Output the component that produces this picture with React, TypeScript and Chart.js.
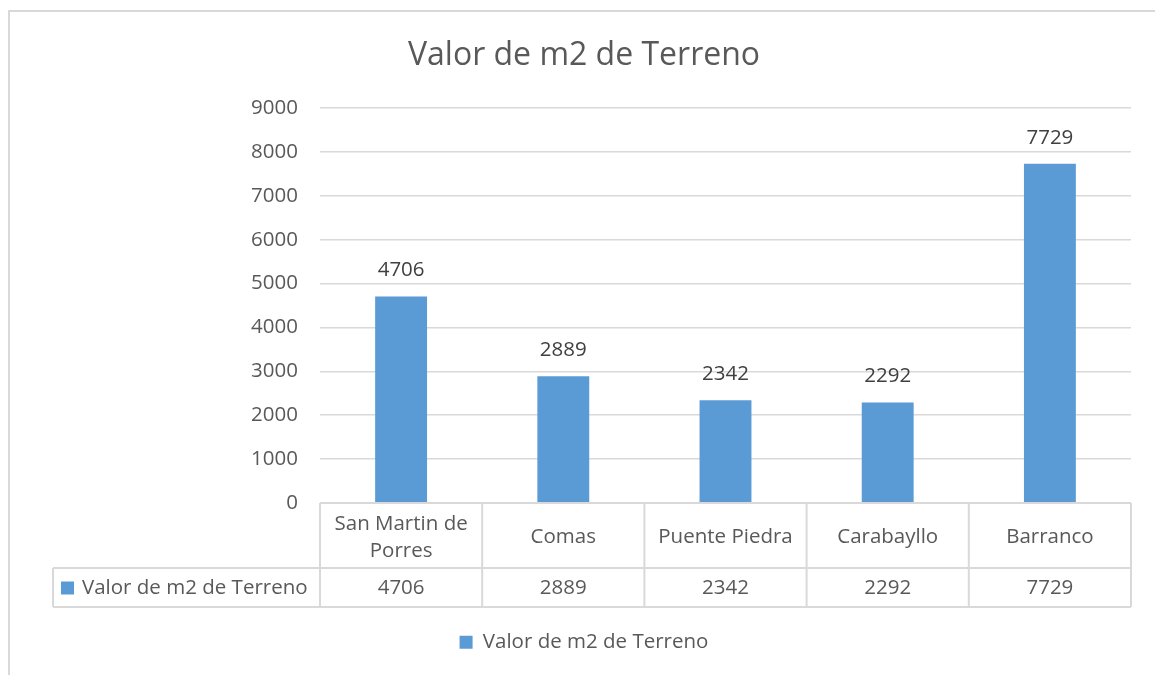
import { useEffect, useRef } from "react";
import { Chart, registerables } from "chart.js";

Chart.register(...registerables);

// ---- data ----
const categories: (string | string[])[] = [["San Martin de", "Porres"], "Comas", "Puente Piedra", "Carabayllo", "Barranco"];
const values = [4706, 2889, 2342, 2292, 7729];
const seriesName = "Valor de m2 de Terreno";
const chartTitle = "Valor de m2 de Terreno";
const yMin = 0;
const yMax = 9000;
const yStep = 1000;

const FONT = "'Open Sans', 'Noto Sans', sans-serif";
const FS = 20.5;
const TEXT = "#595959";
const LINE = "#d9d9d9";
const BAR = "#5b9bd5";

const framePlugin = {
  id: "frame",
  beforeDraw(chart: any) {
    const ctx = chart.ctx;
    ctx.save();
    ctx.fillStyle = "#ffffff";
    ctx.fillRect(0, 0, chart.width, chart.height);
    ctx.strokeStyle = LINE;
    ctx.lineWidth = 2;
    ctx.strokeRect(9, 11, chart.width + 20, chart.height + 20);
    ctx.restore();
  },
};

const dataLabelPlugin = {
  id: "dataLabels",
  afterDatasetsDraw(chart: any) {
    const ctx = chart.ctx;
    const meta = chart.getDatasetMeta(0);
    ctx.save();
    ctx.fillStyle = "#404040";
    ctx.font = `${FS}px ${FONT}`;
    ctx.textAlign = "center";
    ctx.textBaseline = "middle";
    meta.data.forEach((bar: any, i: number) => {
      ctx.fillText(String(values[i]), bar.x, bar.y - 26);
    });
    ctx.restore();
  },
};

const tablePlugin = {
  id: "dataTable",
  afterDraw(chart: any) {
    const { ctx, chartArea } = chart;
    const xs = chart.scales.x;
    const n = values.length;
    const top = chartArea.bottom;
    const mid = top + 65;
    const bot = mid + 39;
    const leftCol = 53;
    ctx.save();
    ctx.strokeStyle = LINE;
    ctx.lineWidth = 2;
    ctx.beginPath();
    ctx.moveTo(chartArea.left, top);
    ctx.lineTo(chartArea.right, top);
    ctx.moveTo(leftCol, mid);
    ctx.lineTo(chartArea.right, mid);
    ctx.moveTo(leftCol, bot);
    ctx.lineTo(chartArea.right, bot);
    ctx.moveTo(leftCol, mid);
    ctx.lineTo(leftCol, bot);
    for (let i = 0; i <= n; i++) {
      const px = xs.getPixelForValue(i - 0.5);
      ctx.moveTo(px, top);
      ctx.lineTo(px, bot);
    }
    ctx.stroke();

    ctx.font = `${FS}px ${FONT}`;
    ctx.fillStyle = TEXT;
    ctx.textAlign = "center";
    ctx.textBaseline = "middle";
    const rowY = (mid + bot) / 2 + 1;
    values.forEach((v, i) => {
      ctx.fillText(String(v), xs.getPixelForValue(i), rowY);
    });
    ctx.fillStyle = BAR;
    ctx.fillRect(leftCol + 8, rowY - 7, 13, 13);
    ctx.fillStyle = TEXT;
    ctx.textAlign = "left";
    ctx.fillText(seriesName, leftCol + 29, rowY);
    ctx.restore();
  },
};

export default function App() {
  const ref = useRef<HTMLCanvasElement | null>(null);
  useEffect(() => {
    if (!ref.current) return;
    const chart = new Chart(ref.current, {
      type: "bar",
      data: {
        labels: categories as any,
        datasets: [
          {
            label: seriesName,
            data: values,
            backgroundColor: BAR,
            barPercentage: 0.32,
            categoryPercentage: 1,
          },
        ],
      },
      options: {
        animation: false,
        responsive: false,
        layout: { padding: { left: 37, right: 24, top: 37, bottom: 12.5 } },
        plugins: {
          title: {
            display: true,
            text: chartTitle,
            color: TEXT,
            font: { family: FONT, size: 32, weight: "normal" },
            padding: { top: 0, bottom: 32.6 },
          },
          legend: {
            position: "bottom",
            labels: {
              boxWidth: 13,
              boxHeight: 13,
              padding: 25,
              color: TEXT,
              font: { family: FONT, size: FS },
            },
          },
          tooltip: { enabled: false },
        },
        scales: {
          x: {
            grid: { display: false },
            border: { display: false },
            ticks: {
              color: TEXT,
              font: { family: FONT, size: FS, lineHeight: 1.32 },
              padding: 13,
              maxRotation: 0,
              autoSkip: false,
              crossAlign: "center",
            },
            afterFit: (s: any) => {
              s.height = 104;
            },
          },
          y: {
            min: yMin,
            max: yMax,
            ticks: {
              stepSize: yStep,
              color: TEXT,
              font: { family: FONT, size: FS },
              padding: 22,
              callback: (v: any) => String(v),
            },
            grid: { color: LINE, lineWidth: 1.5, drawTicks: false },
            border: { display: false },
            afterFit: (s: any) => {
              s.width = 283;
            },
          },
        },
      },
      plugins: [framePlugin, dataLabelPlugin, tablePlugin],
    });
    return () => chart.destroy();
  }, []);
  return (
    <div style={{ position: "absolute", left: 0, top: 0, width: 1155, height: 675 }}>
      <canvas ref={ref} width={1155} height={675} style={{ width: 1155, height: 675 }} />
    </div>
  );
}
